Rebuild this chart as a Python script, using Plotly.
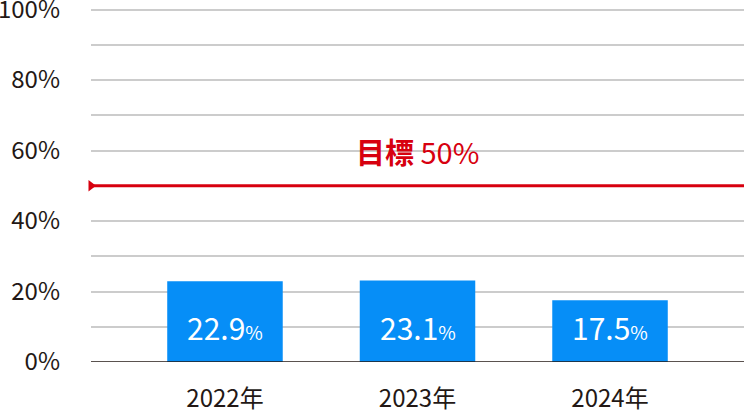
import plotly.graph_objects as go

years = ["2022年", "2023年", "2024年"]
rates = [22.9, 23.1, 17.5]
target = 50
y_ticks = [0, 20, 40, 60, 80, 100]
y_labels = ["0%", "20%", "40%", "60%", "80%", "100%"]

FONT = "Noto Sans CJK JP"
TEXT = "#231815"
BLUE = "#068ef7"
RED = "#d7000f"
x_range = [-0.696, 2.696]

fig = go.Figure()

fig.add_trace(go.Bar(
    x=list(range(len(years))), y=rates,
    width=0.6, marker=dict(color=BLUE, line=dict(width=0)),
    hoverinfo="skip",
))

# target marker (triangle at left end)
fig.add_trace(go.Scatter(
    x=[x_range[0]], y=[target], mode="markers",
    marker=dict(symbol="triangle-right", size=10, color=RED),
    cliponaxis=False, hoverinfo="skip",
))

fig.add_shape(type="line", xref="paper", x0=0, x1=1, y0=target, y1=target,
              line=dict(color=RED, width=3), layer="above")

annotations = []
for i, v in enumerate(rates):
    annotations.append(dict(
        x=i, y=9.8, text=f"{v}<span style='font-size:19px'>%</span>",
        showarrow=False, font=dict(family=FONT, size=30, color="white"),
    ))
annotations.append(dict(
    x=1, y=target, yshift=35, text=f"<b>目標</b> {target}%",
    showarrow=False, font=dict(family=FONT, size=29, color=RED),
))

fig.update_layout(
    width=744, height=412,
    margin=dict(l=91, r=0, t=6.48, b=50),
    paper_bgcolor="white", plot_bgcolor="white",
    showlegend=False,
    font=dict(family=FONT, color=TEXT, size=24),
    annotations=annotations,
    xaxis=dict(
        range=x_range, tickvals=list(range(len(years))), ticktext=years,
        showgrid=False, zeroline=False, showline=False, ticks="",
        automargin=False, ticklabeloverflow="allow",
        ticklabelstandoff=20, tickfont=dict(size=24, color=TEXT),
    ),
    yaxis=dict(
        range=[0, 101], tickvals=list(range(0, 101, 10)),
        ticktext=[y_labels[y_ticks.index(t)] if t in y_ticks else "" for t in range(0, 101, 10)],
        showgrid=True, gridcolor="#cccccc", gridwidth=1.5,
        zeroline=False, showline=False, ticks="",
        automargin=False, ticklabeloverflow="allow",
        ticklabelstandoff=30, tickfont=dict(size=24, color=TEXT),
    ),
)

fig.add_shape(type="line", xref="paper", x0=0, x1=1, y0=0, y1=0,
              line=dict(color=TEXT, width=1.5), layer="above")

fig.write_html("out.html", config={"displayModeBar": False},
               post_script="document.body.style.margin='0';")
